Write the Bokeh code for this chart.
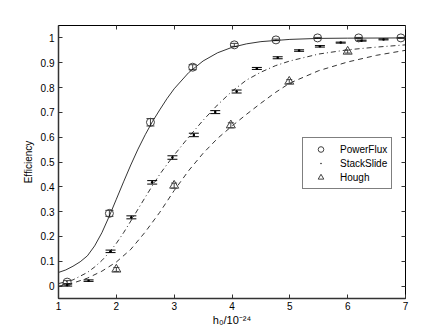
from bokeh.plotting import figure
from bokeh.models import (ColumnDataSource, Whisker, TeeHead, LinearAxis, FixedTicker,
                          Legend, LegendItem, CustomJSTickFormatter)
from bokeh.embed import file_html
from bokeh.resources import INLINE

# ---- data ----
x_ticks = [1, 2, 3, 4, 5, 6, 7]
x_tick_labels = ["1", "2", "3", "4", "5", "6", "7"]
y_ticks = [0, 0.1, 0.2, 0.3, 0.4, 0.5, 0.6, 0.7, 0.8, 0.9, 1.0]
y_tick_labels = ["0", "0.1", "0.2", "0.3", "0.4", "0.5", "0.6", "0.7", "0.8", "0.9", "1"]

pf_x = [1.15, 1.88, 2.59, 3.32, 4.04, 4.76, 5.48, 6.19, 6.92]
pf_y = [0.016, 0.293, 0.660, 0.882, 0.972, 0.992, 1.0, 1.0, 1.0]
pf_err = [0.006, 0.012, 0.015, 0.010, 0.006, 0.003, 0.002, 0.002, 0.002]

ss_x = [1.15, 1.52, 1.90, 2.26, 2.62, 2.97, 3.34, 3.71, 4.08, 4.43, 4.79, 5.16, 5.52, 5.88, 6.24, 6.62]
ss_y = [0.004, 0.022, 0.140, 0.277, 0.418, 0.518, 0.609, 0.701, 0.784, 0.877, 0.920, 0.949, 0.966, 0.981, 0.989, 0.994]
ss_err = [0.004, 0.003, 0.005, 0.006, 0.007, 0.007, 0.007, 0.006, 0.006, 0.004, 0.004, 0.003, 0.003, 0.002, 0.002, 0.002]

hg_x = [2.0, 3.0, 3.98, 4.99, 6.0]
hg_y = [0.067, 0.405, 0.648, 0.824, 0.945]
hg_err = [0.008, 0.010, 0.010, 0.008, 0.006]

pf_fit_x = [1.0, 1.125, 1.25, 1.375, 1.5, 1.625, 1.75, 1.875, 2.0, 2.125, 2.25, 2.375, 2.5, 2.625,
            2.75, 2.875, 3.0, 3.25, 3.5, 3.75, 4.0, 4.25, 4.5, 5.0, 5.5, 6.0, 7.0]
pf_fit = [0.055, 0.065, 0.08, 0.098, 0.122, 0.162, 0.215, 0.28, 0.35, 0.42, 0.488, 0.552, 0.61, 0.663,
          0.71, 0.755, 0.795, 0.86, 0.907, 0.94, 0.962, 0.976, 0.985, 0.994, 0.998, 0.999, 1.0]

ss_fit_x = [1.0, 1.25, 1.5, 1.625, 1.75, 1.875, 2.0, 2.125, 2.25, 2.375, 2.5, 2.625, 2.75, 2.875,
            3.0, 3.25, 3.5, 3.75, 4.0, 4.25, 4.5, 4.75, 5.0, 5.5, 6.0, 6.5, 7.0]
ss_fit = [0.01, 0.025, 0.055, 0.077, 0.103, 0.135, 0.172, 0.215, 0.262, 0.31, 0.358, 0.405, 0.45, 0.49,
          0.528, 0.60, 0.668, 0.73, 0.785, 0.83, 0.862, 0.888, 0.907, 0.935, 0.952, 0.963, 0.972]

hg_fit_x = [1.0, 1.25, 1.5, 1.75, 2.0, 2.25, 2.5, 2.75, 3.0, 3.25, 3.5, 3.75, 4.0, 4.25, 4.5, 4.75,
            5.0, 5.5, 6.0, 6.5, 7.0]
hg_fit = [0.0, 0.012, 0.032, 0.06, 0.097, 0.148, 0.218, 0.297, 0.385, 0.465, 0.535, 0.595, 0.645, 0.692,
          0.737, 0.78, 0.818, 0.868, 0.903, 0.93, 0.95]

FONT = "Liberation Sans"
MARK = "#404040"

p = figure(width=440, height=328, x_range=(1, 7), y_range=(-0.05, 1.05),
           output_backend="svg", toolbar_location=None,
           min_border_left=58, min_border_right=35, min_border_top=25, min_border_bottom=29)
p.grid.visible = False
p.outline_line_color = "black"
p.outline_line_width = 1
p.background_fill_color = "white"
p.border_fill_color = "white"

# axes
for ax, ticks, labels in ((p.xaxis[0], x_ticks, x_tick_labels), (p.yaxis[0], y_ticks, y_tick_labels)):
    ax.ticker = FixedTicker(ticks=ticks)
    ax.major_label_overrides = {t: l for t, l in zip(ticks, labels)}
    ax.major_tick_in = 4
    ax.major_tick_out = 0
    ax.minor_tick_line_color = None
    ax.axis_line_color = "#333333"
    ax.axis_line_width = 1.5
    ax.major_tick_line_color = "#333333"
    ax.major_label_text_font = FONT
    ax.major_label_text_font_size = "10px"
    ax.major_label_text_color = "black"
    ax.axis_label_text_font = FONT
    ax.axis_label_text_font_size = "10px"
    ax.axis_label_text_font_style = "normal"
    ax.axis_label_text_color = "black"

p.xaxis.axis_label = "h₀/10⁻²⁴"
p.xaxis.axis_label_text_font_size = "11px"
p.xaxis.major_label_standoff = 3
p.xaxis.axis_label_standoff = 1
p.yaxis.axis_label = "Efficiency"
p.yaxis.major_label_standoff = 4
p.yaxis.axis_label_standoff = 4

blank = CustomJSTickFormatter(code="return ''")
top = LinearAxis(ticker=FixedTicker(ticks=x_ticks), formatter=blank, major_tick_in=4, major_tick_out=0,
                 minor_tick_line_color=None, axis_line_color=None, major_tick_line_color="#333333",
                 major_label_text_font_size="1px", major_label_standoff=0)
right = LinearAxis(ticker=FixedTicker(ticks=y_ticks), formatter=blank, major_tick_in=4, major_tick_out=0,
                   minor_tick_line_color=None, axis_line_color=None, major_tick_line_color="#333333",
                   major_label_text_font_size="1px", major_label_standoff=0)
p.add_layout(top, "above")
p.add_layout(right, "right")

# fit curves
p.line(pf_fit_x, pf_fit, line_color="black", line_width=0.8)
p.line(ss_fit_x, ss_fit, line_color="black", line_width=0.8, line_dash="5 3 1 3")
p.line(hg_fit_x, hg_fit, line_color="black", line_width=0.8, line_dash="5 4")

# error bars
def whisk(xs, ys, es, width, color):
    src = ColumnDataSource(dict(base=xs, upper=[y + e for y, e in zip(ys, es)],
                                lower=[y - e for y, e in zip(ys, es)]))
    w = Whisker(base="base", upper="upper", lower="lower", source=src, dimension="height",
                line_color=color, line_width=1,
                upper_head=TeeHead(size=width, line_color=color, line_width=1),
                lower_head=TeeHead(size=width, line_color=color, line_width=1))
    p.add_layout(w)

whisk(pf_x, pf_y, pf_err, 8, MARK)
whisk(ss_x, ss_y, ss_err, 10, "black")
whisk(hg_x, hg_y, hg_err, 6, MARK)

r_pf = p.scatter(pf_x, pf_y, marker="circle", size=8, fill_color=None, line_color=MARK, line_width=1)
r_ss = p.scatter(ss_x, ss_y, marker="dot", size=10, fill_color="black", line_color="black", line_width=1)
r_hg = p.scatter(hg_x, hg_y, marker="triangle", size=9, fill_color=None, line_color=MARK, line_width=1)

legend = Legend(items=[LegendItem(label="PowerFlux", renderers=[r_pf]),
                       LegendItem(label="StackSlide", renderers=[r_ss]),
                       LegendItem(label="Hough", renderers=[r_hg])],
                location=(244, 109), margin=0, padding=4, spacing=0,
                glyph_width=27, glyph_height=14, label_height=14, label_standoff=6,
                label_text_font=FONT, label_text_font_size="10px", label_text_color="black",
                border_line_color="black", border_line_width=1, background_fill_alpha=1)
p.add_layout(legend)

open("out.html", "w").write(file_html(p, INLINE))
